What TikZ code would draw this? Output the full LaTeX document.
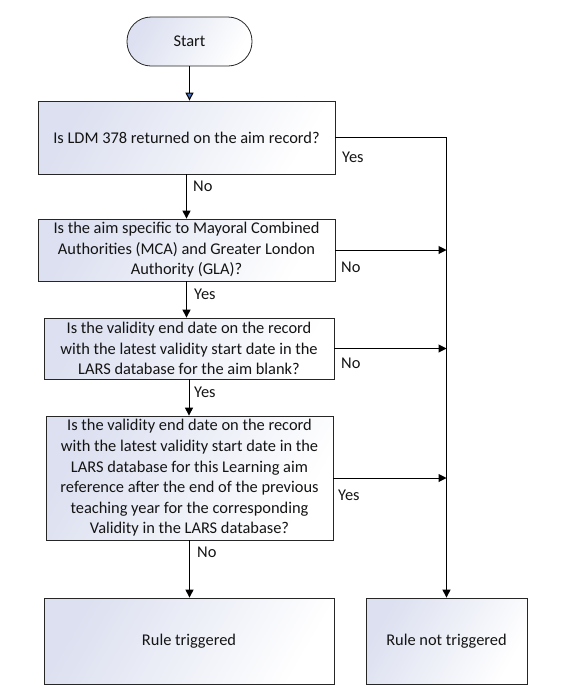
\documentclass[tikz,border=0pt]{standalone}
\usepackage{fontspec}
\setmainfont{Carlito}
\usetikzlibrary{arrows.meta,calc}
\definecolor{shadeblue}{RGB}{220,224,240}
\definecolor{tipblue}{RGB}{70,110,190}
\begin{document}
\begin{tikzpicture}[x=1pt,y=-1pt,
  every node/.style={font=\fontsize{16.4}{20.6}\selectfont, text=black!92},
  box/.style={draw=black!85, line width=0.8pt, left color=shadeblue, right color=white, shading angle=60, align=center, inner sep=2pt},
  conn/.style={draw=black, line width=1pt},
  arr/.style={conn, -{Triangle[length=8pt,width=8pt]}},
  lbl/.style={anchor=west, inner sep=0pt}]
\useasboundingbox (0,0) rectangle (565,694);
\node[box, rounded corners=24pt, minimum width=125pt, minimum height=49pt] (start) at (189.5,41.5) {Start};
\node[box, minimum width=297pt, minimum height=73pt] (b1) at (186.5,137.5) {Is LDM 378 returned on the aim record?};
\node[box, minimum width=297pt, minimum height=62pt] (b2) at (186.5,250) {Is the aim specific to Mayoral Combined\\Authorities (MCA) and Greater London\\Authority (GLA)?};
\node[box, minimum width=290pt, minimum height=61pt] (b3) at (189,348.5) {Is the validity end date on the record\\with the latest validity start date in the\\LARS database for the aim blank?};
\node[box, minimum width=287pt, minimum height=124pt] (b4) at (189.5,478) {Is the validity end date on the record\\with the latest validity start date in the\\LARS database for this Learning aim\\reference after the end of the previous\\teaching year for the corresponding\\Validity in the LARS database?};
\node[box, minimum width=290pt, minimum height=86pt] (rt) at (189,641) {Rule triggered};
\node[box, minimum width=161pt, minimum height=86pt] (rnt) at (446.5,641) {Rule not triggered};
\draw[conn, -{Triangle[length=8pt,width=8pt,fill=tipblue]}] (start.south) -- (start.south |- b1.north);
\draw[arr] (b1.south) -- (b1.south |- b2.north);
\draw[arr] (b2.south) -- (b2.south |- b3.north);
\draw[arr] (b3.south) -- (b3.south |- b4.north);
\draw[arr] (b4.south) -- (b4.south |- rt.north);
\draw[arr] (b1.east) -| (rnt.north);
\draw[arr] (b2.east) -- (b2.east -| rnt.north);
\draw[arr] (b3.east) -- (b3.east -| rnt.north);
\draw[arr] (b4.east) -- (b4.east -| rnt.north);
\node[lbl] (y1) at (342,157) {Yes};
\node[lbl] (n1) at (193,186) {No};
\node[lbl] (n2) at (341,267) {No};
\node[lbl] (y2) at (194,294) {Yes};
\node[lbl] (n3) at (341,363) {No};
\node[lbl] (y3) at (194,392) {Yes};
\node[lbl] (y4) at (338,495) {Yes};
\node[lbl] (n4) at (197,552) {No};
\end{tikzpicture}
\end{document}
